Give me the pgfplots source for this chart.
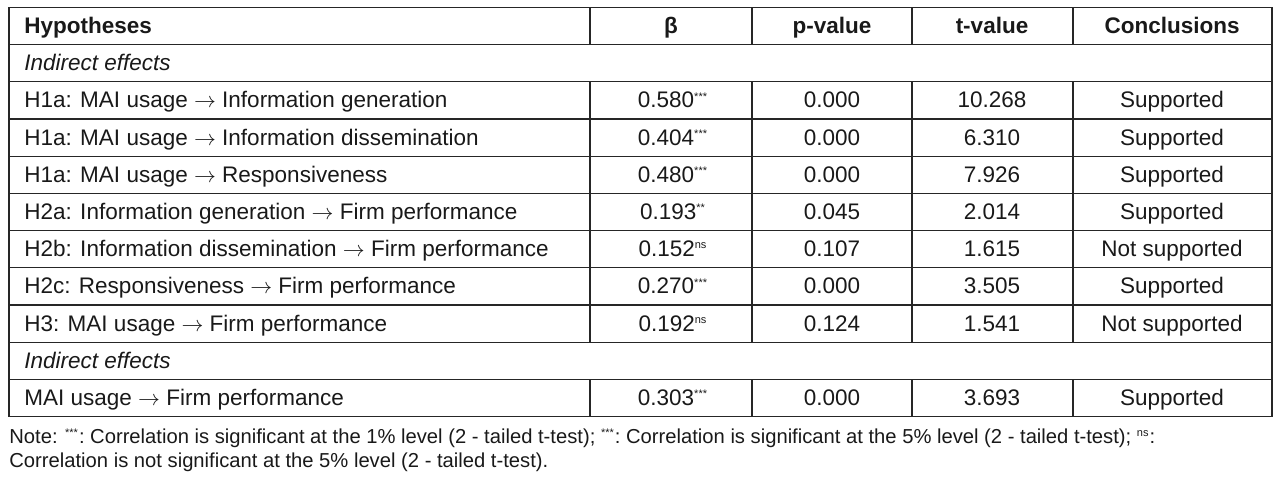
\documentclass[border=0pt]{standalone}
\usepackage{pgfplots}
\pgfplotsset{compat=1.18}
\usepackage{fontspec}
\setmainfont{Liberation Sans}
\newcommand{\sig}[1]{\textsuperscript{\fontsize{5.5}{5.5}\selectfont #1}}
\begin{document}
\begin{tikzpicture}
\begin{axis}[scale only axis, width=642pt, height=240pt,
  xmin=0, xmax=1284, ymin=0, ymax=480, y dir=reverse,
  axis lines=none, ticks=none, clip=false]
\tikzset{cell/.style={font=\fontsize{11.25}{13}\selectfont, inner sep=0pt, anchor=base, text=black!90},
         lcell/.style={cell, anchor=base west},
         grid/.style={line width=0.6pt, black!85}}
\path (axis cs:0,0) rectangle (axis cs:1284,480);
% horizontal rules
\pgfplotsinvokeforeach{7.5,44.7,81.9,119.1,156.3,193.5,230.7,267.9,305.1,342.3,379.5,416.7}{
  \draw[grid] (axis cs:9,#1) -- (axis cs:1272,#1);
}
% outer verticals
\draw[grid] (axis cs:9,7.5) -- (axis cs:9,416.7);
\draw[grid] (axis cs:1272,7.5) -- (axis cs:1272,416.7);
% inner verticals
\pgfplotsinvokeforeach{590,752,912,1073}{
  \draw[grid] (axis cs:#1,7.5) -- (axis cs:#1,44.7);
  \draw[grid] (axis cs:#1,81.9) -- (axis cs:#1,342.3);
  \draw[grid] (axis cs:#1,379.5) -- (axis cs:#1,416.7);
}
% header
\node[lcell] at (axis cs:24,33.6) {\bfseries Hypotheses};
\node[cell] at (axis cs:671,33.6) {\bfseries β};
\node[cell] at (axis cs:832,33.6) {\bfseries p-value};
\node[cell] at (axis cs:992,33.6) {\bfseries t-value};
\node[cell] at (axis cs:1172,33.6) {\bfseries Conclusions};
\node[lcell] at (axis cs:24,70.8) {\itshape Indirect effects};
% rows
\node[lcell] at (axis cs:24,108.0) {H1a: MAI usage $\rightarrow$ Information generation};
\node[cell] at (axis cs:673,108.0) {0.580\sig{***}};
\node[cell] at (axis cs:832,108.0) {0.000};
\node[cell] at (axis cs:992,108.0) {10.268};
\node[cell] at (axis cs:1172,108.0) {Supported};
\node[lcell] at (axis cs:24,145.2) {H1a: MAI usage $\rightarrow$ Information dissemination};
\node[cell] at (axis cs:673,145.2) {0.404\sig{***}};
\node[cell] at (axis cs:832,145.2) {0.000};
\node[cell] at (axis cs:992,145.2) {6.310};
\node[cell] at (axis cs:1172,145.2) {Supported};
\node[lcell] at (axis cs:24,182.4) {H1a: MAI usage $\rightarrow$ Responsiveness};
\node[cell] at (axis cs:673,182.4) {0.480\sig{***}};
\node[cell] at (axis cs:832,182.4) {0.000};
\node[cell] at (axis cs:992,182.4) {7.926};
\node[cell] at (axis cs:1172,182.4) {Supported};
\node[lcell] at (axis cs:24,219.6) {H2a: Information generation $\rightarrow$ Firm performance};
\node[cell] at (axis cs:673,219.6) {0.193\sig{**}};
\node[cell] at (axis cs:832,219.6) {0.045};
\node[cell] at (axis cs:992,219.6) {2.014};
\node[cell] at (axis cs:1172,219.6) {Supported};
\node[lcell] at (axis cs:24,256.8) {H2b: Information dissemination $\rightarrow$ Firm performance};
\node[cell] at (axis cs:673,256.8) {0.152\sig{ns}};
\node[cell] at (axis cs:832,256.8) {0.107};
\node[cell] at (axis cs:992,256.8) {1.615};
\node[cell] at (axis cs:1172,256.8) {Not supported};
\node[lcell] at (axis cs:24,294.0) {H2c: Responsiveness $\rightarrow$ Firm performance};
\node[cell] at (axis cs:673,294.0) {0.270\sig{***}};
\node[cell] at (axis cs:832,294.0) {0.000};
\node[cell] at (axis cs:992,294.0) {3.505};
\node[cell] at (axis cs:1172,294.0) {Supported};
\node[lcell] at (axis cs:24,331.2) {H3: MAI usage $\rightarrow$ Firm performance};
\node[cell] at (axis cs:673,331.2) {0.192\sig{ns}};
\node[cell] at (axis cs:832,331.2) {0.124};
\node[cell] at (axis cs:992,331.2) {1.541};
\node[cell] at (axis cs:1172,331.2) {Not supported};
\node[lcell] at (axis cs:24,368.4) {\itshape Indirect effects};
\node[lcell] at (axis cs:24,405.6) {MAI usage $\rightarrow$ Firm performance};
\node[cell] at (axis cs:673,405.6) {0.303\sig{***}};
\node[cell] at (axis cs:832,405.6) {0.000};
\node[cell] at (axis cs:992,405.6) {3.693};
\node[cell] at (axis cs:1172,405.6) {Supported};
% note
\node[lcell, font=\fontsize{10.1}{12}\selectfont] at (axis cs:9,444) {Note: \sig{***}:\ Correlation is significant at the 1\% level (2 - tailed t-test); \sig{***}:\ Correlation is significant at the 5\% level (2 - tailed t-test);\ \sig{ns}:};
\node[lcell, font=\fontsize{10.1}{12}\selectfont] at (axis cs:9,467) {Correlation is not significant at the 5\% level (2 - tailed t-test).};
\end{axis}
\end{tikzpicture}
\end{document}
